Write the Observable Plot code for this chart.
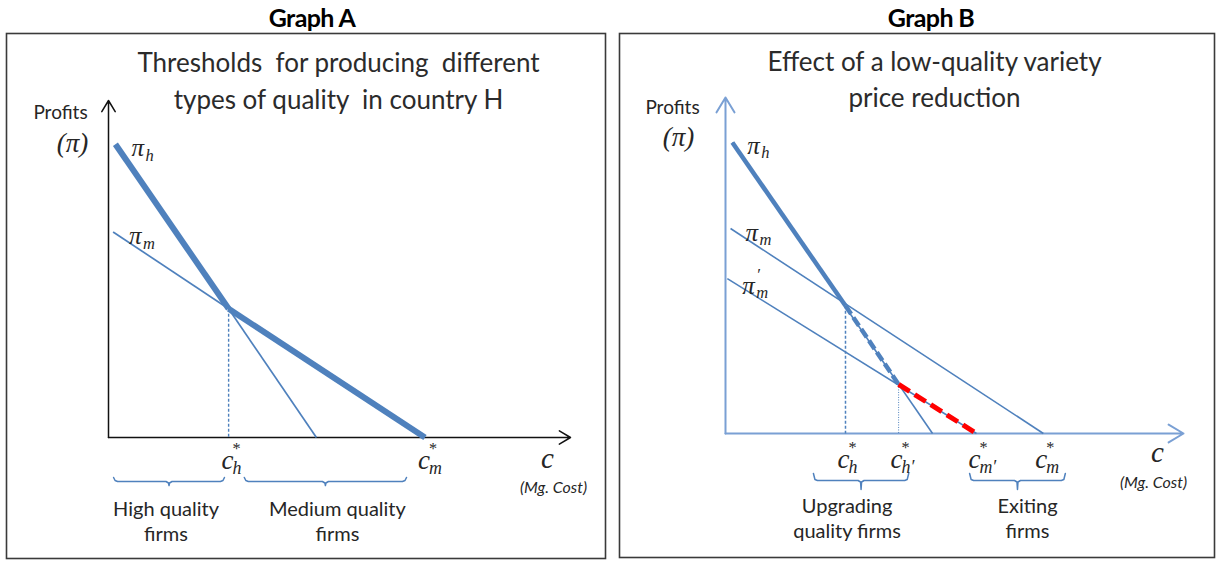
<!DOCTYPE html>
<html><head><meta charset="utf-8">
<script src="https://cdn.jsdelivr.net/npm/d3@7"></script>
<script src="https://cdn.jsdelivr.net/npm/@observablehq/plot@0.6"></script>
<style>
body{margin:0;background:#fff;}
#wrap{position:relative;width:1216px;height:561px;overflow:hidden;font-family:Lato,"Open Sans",sans-serif;}
.hdr{position:absolute;top:2px;width:300px;text-align:center;font-weight:bold;font-size:25px;line-height:30px;color:#000;letter-spacing:-0.6px;}
.panel{position:absolute;}
.panel svg{overflow:visible;}
</style></head><body>
<div id="wrap">
  <div class="hdr" style="left:162px">Graph A</div>
  <div class="hdr" style="left:781px">Graph B</div>
  <div class="panel" id="pA" style="left:5px;top:32px"></div>
  <div class="panel" id="pB" style="left:618px;top:32px"></div>
</div>
<script>
// ================= DATA (c = marginal cost, π = profits, arbitrary units) =================
const axisMax = 10;                                   // length of both drawn axes

// Graph A
const curvesA       = ["h", "m"];                     // π_h, π_m
const startCostA    = [0.15, 0.10];                   // c where each profit line starts
const startProfitA  = [8.7, 6.1];                     // π at that start
const zeroCostA     = [4.5, 6.85];                    // c where π reaches 0
const cutoffNamesA  = ["h", "m"];                     // c*_h, c*_m
const cutoffA       = [2.6, 6.85];
const cutoffProfitA = [3.82, 0];
const groupsA       = ["High quality\nfirms", "Medium quality\nfirms"];
const groupFromA    = [0.11, 2.94];
const groupToA      = [2.51, 6.45];

// Graph B
const curvesB       = ["h", "m", "m"];                // π_h, π_m, π'_m
const curvePrimeB   = ["", "", "′"];
const startCostB    = [0.15, 0.11, 0.04];
const startProfitB  = [8.66, 6.1, 4.61];
const zeroCostB     = [4.52, 6.94, 5.48];
const cutoffNamesB  = ["h", "h′", "m′", "m"];         // c*_h, c*_h', c*_m', c*_m
const cutoffB       = [2.62, 3.78, 5.48, 6.94];
const cutoffProfitB = [3.8, 1.46, 0, 0];
const groupsB       = ["Upgrading\nquality firms", "Exiting\nfirms"];
const groupFromB    = [1.92, 5.33];
const groupToB      = [4.0, 7.42];

const titleA = "Thresholds \u00a0for producing \u00a0different\ntypes of quality \u00a0in country H";
const titleB = "Effect of a low-quality variety\nprice reduction";

// ================= STYLE =================
const MATH = "'Liberation Serif','DejaVu Serif',serif";
const SANS = "Lato,'Open Sans',sans-serif";
const BLUE = "#4f81bd";
const INK = "#262626";

function layout({W, H, ox, oy, kx, ky}) {
  const w = W - 2, h = H - 2;
  return {
    width: W, height: H, margin: 1,
    x: {domain: [-ox / kx, (w - ox) / kx], axis: null},
    y: {domain: [-(h - oy) / ky, oy / ky], axis: null},
    style: {fontFamily: SANS, background: "transparent", overflow: "visible", color: INK}
  };
}

function braceRows(from, to, lv, kx, ky) {
  const px = v => v / kx, py = v => -v / ky;
  return from.flatMap((a, i) => {
    const b = to[i], m = (a + b) / 2;
    const pts = [
      [a, py(lv[0])], [a + px(1.5), py(lv[1] - 1)], [a + px(4), py(lv[1])],
      [m - px(3), py(lv[1])], [m - px(0.5), py(lv[1] + 1.5)], [m, py(lv[2])],
      [m + px(0.5), py(lv[1] + 1.5)], [m + px(3), py(lv[1])],
      [b - px(4), py(lv[1])], [b - px(1.5), py(lv[1] - 1)], [b, py(lv[0])]
    ];
    return pts.map(([x, y]) => ({g: i, x, y}));
  });
}

function mathLabel({x, y, base, sub = "", sup = "", dx = 0, dy = 0, size = 25, bw = 12, supDx = null, supDy = null, supSize = null}) {
  const row = [{x, y}];
  const marks = [
    Plot.text(row, {x: "x", y: "y", text: () => base, dx, dy, fontSize: size, fontFamily: MATH,
      fontStyle: "italic", textAnchor: "start", fill: INK})
  ];
  if (sub) marks.push(Plot.text(row, {x: "x", y: "y", text: () => sub, dx: dx + bw, dy: dy + size * 0.3,
      fontSize: size * 0.66, fontFamily: MATH, fontStyle: "italic", textAnchor: "start", fill: INK}));
  if (sup) marks.push(Plot.text(row, {x: "x", y: "y", text: () => sup, dx: dx + (supDx ?? bw), dy: dy + (supDy ?? -size * 0.42),
      fontSize: supSize ?? size * 0.6, fontFamily: MATH, textAnchor: "start", fill: INK}));
  return marks;
}

// ================= GRAPH A =================
(function () {
  const L = {W: 601, H: 527, ox: 102, oy: 404, kx: 46.2, ky: 33.7};
  const cut = {x: cutoffA[0], y: cutoffProfitA[0]};
  const thick = [
    {x1: startCostA[0], y1: startProfitA[0], x2: cut.x, y2: cut.y},
    {x1: cut.x, y1: cut.y, x2: zeroCostA[1], y2: 0}
  ];
  const thin = [
    {x1: cut.x, y1: cut.y, x2: zeroCostA[0], y2: 0},
    {x1: startCostA[1], y1: startProfitA[1], x2: cut.x, y2: cut.y}
  ];
  const drop = [{x1: cut.x, y1: cut.y, x2: cut.x, y2: 0}];
  const axes = [{x1: 0, y1: 0, x2: axisMax, y2: 0}, {x1: 0, y1: 0, x2: 0, y2: axisMax}];
  const groups = groupsA.map((t, i) => ({t, x: (groupFromA[i] + groupToA[i]) / 2, y: 0}));
  const braces = braceRows(groupFromA, groupToA, [40, 44, 48], L.kx, L.ky);

  const marks = [
    Plot.frame({stroke: "#3a3a3a", strokeWidth: 1.6}),
    Plot.text([titleA], {x: () => axisMax / 2, y: () => axisMax, text: d => d, dx: -1, dy: -21.5, fontSize: 26,
      lineHeight: 1.42, fill: "#2b2b2b"}),
    Plot.arrow(axes, {x1: "x1", y1: "y1", x2: "x2", y2: "y2", stroke: "#111", strokeWidth: 1.5, headLength: 13, headAngle: 62}),
    Plot.text(["Profits"], {x: () => 0, y: () => axisMax, text: d => d, dx: -48, dy: 12, fontSize: 19, fill: INK}),
    Plot.text(["(π)"], {x: () => 0, y: () => axisMax, text: d => d, dx: -36, dy: 43, fontSize: 27, fontFamily: MATH, fontStyle: "italic", fill: INK}),
    Plot.link(drop, {x1: "x1", y1: "y1", x2: "x2", y2: "y2", stroke: BLUE, strokeWidth: 1.4, strokeDasharray: "3,2"}),
    Plot.link(thin, {x1: "x1", y1: "y1", x2: "x2", y2: "y2", stroke: BLUE, strokeWidth: 1.7}),
    Plot.link(thick, {x1: "x1", y1: "y1", x2: "x2", y2: "y2", stroke: BLUE, strokeWidth: 6, strokeLinecap: "butt"}),
    Plot.line(braces, {x: "x", y: "y", z: "g", stroke: BLUE, strokeWidth: 1.5}),
    Plot.text(groups.slice(0, 1), {x: "x", y: "y", text: "t", dx: -3, dy: 83, fontSize: 20, lineHeight: 1.27, fill: INK}),
    Plot.text(groups.slice(1), {x: "x", y: "y", text: "t", dx: 12, dy: 83, fontSize: 20, lineHeight: 1.27, fill: INK}),
    Plot.text(["c"], {x: () => axisMax, y: () => 0, text: d => d, dx: -23, dy: 21, fontSize: 29, fontFamily: MATH, fontStyle: "italic", fill: INK}),
    Plot.text(["(Mg. Cost)"], {x: () => axisMax, y: () => 0, text: d => d, dx: -17, dy: 50, fontSize: 16, fontStyle: "italic", fill: INK}),
    ...curvesA.flatMap((k, i) => mathLabel({x: startCostA[i], y: startProfitA[i], base: "π", sub: k, dx: 16, dy: 4, bw: 14})),
    ...cutoffNamesA.flatMap((k, i) => mathLabel({x: cutoffA[i], y: 0, base: "c", sub: k, sup: "*", dx: -7, dy: 23, size: 27, bw: 11, supDx: 11}))
  ];
  document.getElementById("pA").append(Plot.plot({...layout(L), marks}));
})();

// ================= GRAPH B =================
(function () {
  const L = {W: 597, H: 526, ox: 106, oy: 400, kx: 45.8, ky: 33.6};
  const AX = "#7aa0d4";
  const c1 = {x: cutoffB[0], y: cutoffProfitB[0]};
  const c2 = {x: cutoffB[1], y: cutoffProfitB[1]};
  const thin = curvesB.map((k, i) => ({x1: startCostB[i], y1: startProfitB[i], x2: zeroCostB[i], y2: 0}));
  const thick = [{x1: startCostB[0], y1: startProfitB[0], x2: c1.x, y2: c1.y}];
  const blueDash = [{x1: c1.x, y1: c1.y, x2: c2.x, y2: c2.y}];
  const redDash = [{x1: c2.x, y1: c2.y, x2: zeroCostB[2], y2: 0}];
  const dropDash = [{x1: c1.x, y1: c1.y, x2: c1.x, y2: 0}];
  const dropDot = [{x1: c2.x, y1: c2.y, x2: c2.x, y2: 0}];
  const axes = [{x1: 0, y1: 0, x2: axisMax, y2: 0}, {x1: 0, y1: 0, x2: 0, y2: axisMax}];
  const groups = groupsB.map((t, i) => ({t, x: (groupFromB[i] + groupToB[i]) / 2, y: 0}));
  const braces = braceRows(groupFromB, groupToB, [40, 47, 56], L.kx, L.ky);

  const marks = [
    Plot.frame({stroke: "#3a3a3a", strokeWidth: 1.6}),
    Plot.text([titleB], {x: () => axisMax / 2, y: () => axisMax, text: d => d, dx: -20, dy: -20, fontSize: 26,
      lineHeight: 1.38, fill: "#2b2b2b"}),
    Plot.arrow(axes, {x1: "x1", y1: "y1", x2: "x2", y2: "y2", stroke: AX, strokeWidth: 2, headLength: 13, headAngle: 62}),
    Plot.text(["Profits"], {x: () => 0, y: () => axisMax, text: d => d, dx: -53, dy: 10, fontSize: 19, fill: INK}),
    Plot.text(["(π)"], {x: () => 0, y: () => axisMax, text: d => d, dx: -47, dy: 40, fontSize: 27, fontFamily: MATH, fontStyle: "italic", fill: INK}),
    Plot.link(dropDash, {x1: "x1", y1: "y1", x2: "x2", y2: "y2", stroke: BLUE, strokeWidth: 1.5, strokeDasharray: "3,2"}),
    Plot.link(dropDot, {x1: "x1", y1: "y1", x2: "x2", y2: "y2", stroke: BLUE, strokeWidth: 1, strokeDasharray: "1,1.5"}),
    Plot.link(thin, {x1: "x1", y1: "y1", x2: "x2", y2: "y2", stroke: BLUE, strokeWidth: 1.6}),
    Plot.link(thick, {x1: "x1", y1: "y1", x2: "x2", y2: "y2", stroke: BLUE, strokeWidth: 4.5, strokeLinecap: "butt"}),
    Plot.link(blueDash, {x1: "x1", y1: "y1", x2: "x2", y2: "y2", stroke: BLUE, strokeWidth: 4.5, strokeDasharray: "10,4", strokeLinecap: "butt"}),
    Plot.link(redDash, {x1: "x1", y1: "y1", x2: "x2", y2: "y2", stroke: "#ff0000", strokeWidth: 5, strokeDasharray: "13,6", strokeLinecap: "butt"}),
    Plot.line(braces, {x: "x", y: "y", z: "g", stroke: BLUE, strokeWidth: 1.5}),
    Plot.text(groups.slice(0, 1), {x: "x", y: "y", text: "t", dx: -14, dy: 84, fontSize: 20, lineHeight: 1.27, fill: INK}),
    Plot.text(groups.slice(1), {x: "x", y: "y", text: "t", dx: 10, dy: 84, fontSize: 20, lineHeight: 1.27, fill: INK}),
    Plot.text(["c"], {x: () => axisMax, y: () => 0, text: d => d, dx: -26, dy: 19, fontSize: 29, fontFamily: MATH, fontStyle: "italic", fill: INK}),
    Plot.text(["(Mg. Cost)"], {x: () => axisMax, y: () => 0, text: d => d, dx: -30, dy: 49, fontSize: 16, fontStyle: "italic", fill: INK}),
    ...curvesB.flatMap((k, i) => mathLabel({x: startCostB[i], y: startProfitB[i], base: "π", sub: k, sup: curvePrimeB[i], dx: 15, dy: [3, 4, 7][i], bw: 14, supDx: 15, supDy: -11, supSize: 17})),
    ...cutoffNamesB.flatMap((k, i) => mathLabel({x: cutoffB[i], y: 0, base: "c", sub: k, sup: "*", dx: -8, dy: 26, size: 27, bw: 11, supDx: 11}))
  ];
  document.getElementById("pB").append(Plot.plot({...layout(L), marks}));
})();
</script>
</body></html>
